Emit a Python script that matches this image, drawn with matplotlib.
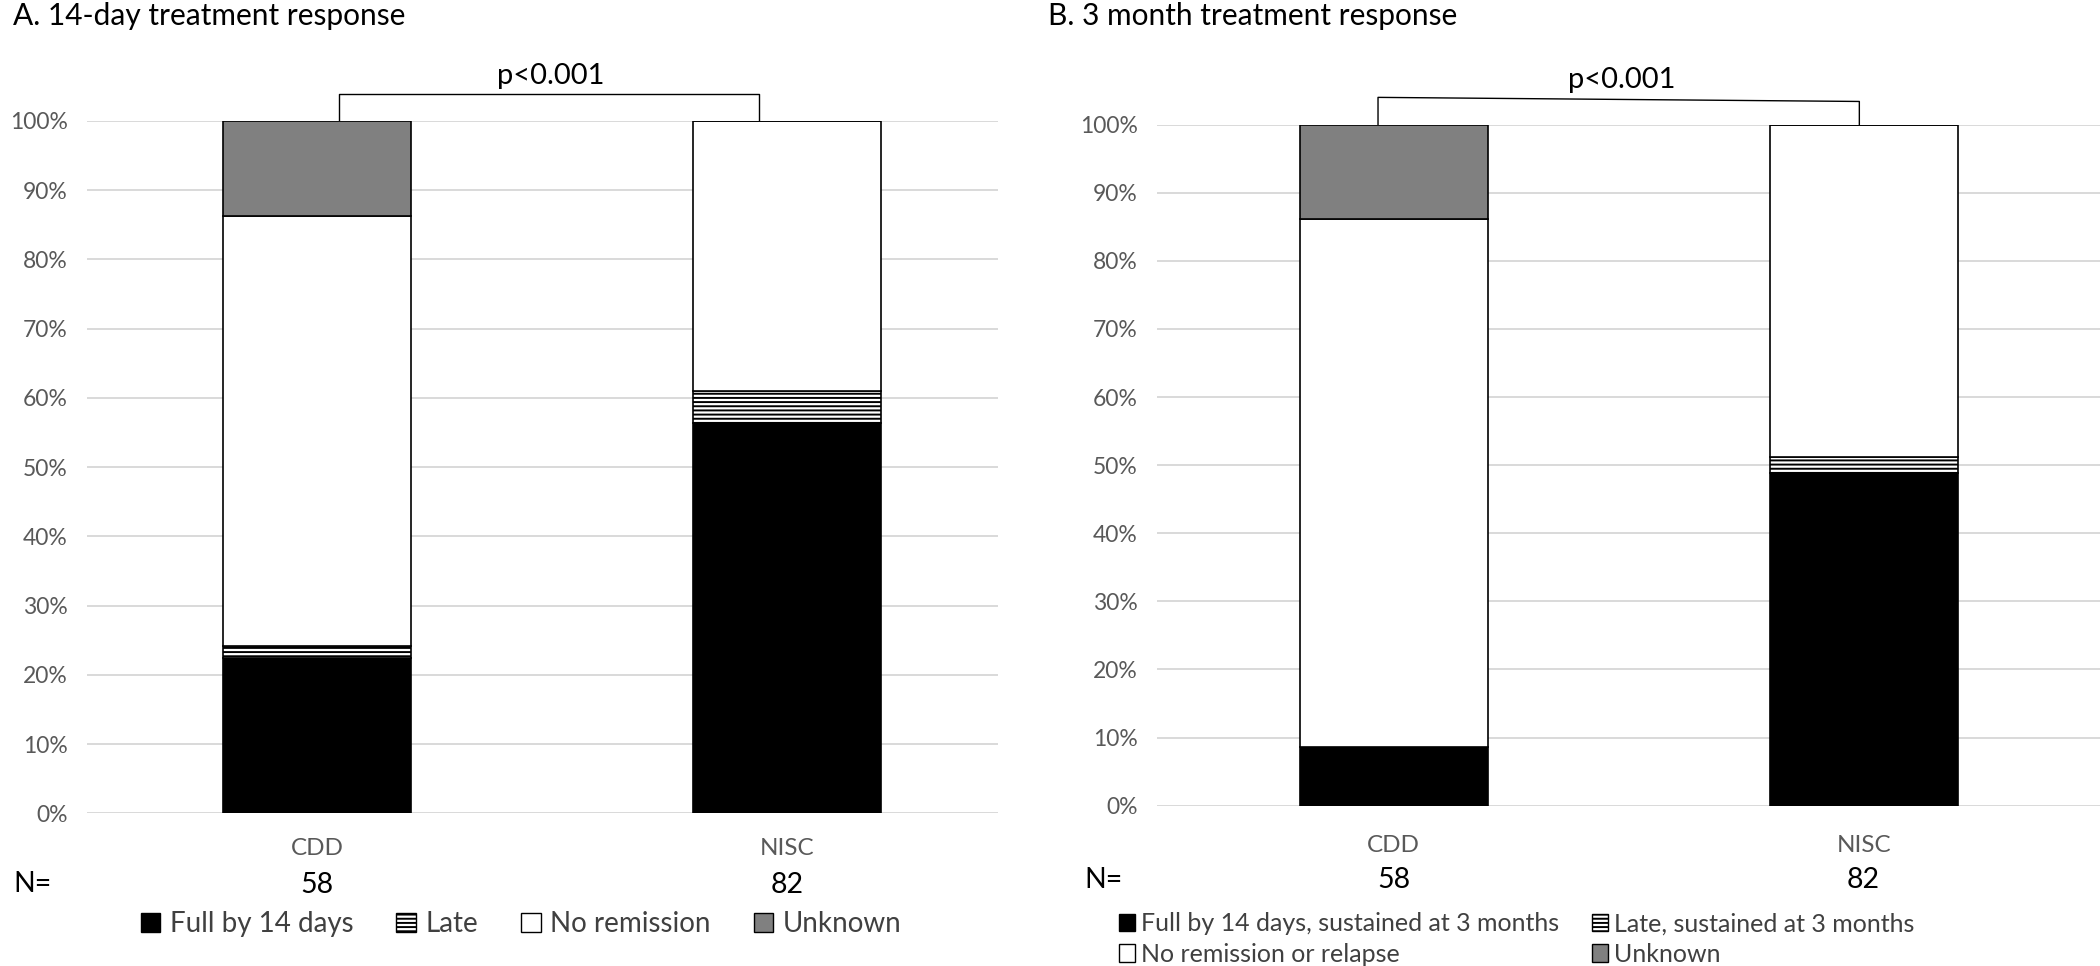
import matplotlib
matplotlib.use("Agg")
import matplotlib.pyplot as plt
from matplotlib.patches import Patch
from matplotlib.ticker import FuncFormatter

plt.rcParams['font.family'] = ['Lato', 'DejaVu Sans']
plt.rcParams['hatch.linewidth'] = 1.4

# data (percent of each group)
categories = ["CDD", "NISC"]
n_values = [58, 82]

a_full = [22.4, 56.4]
a_late = [1.7, 4.6]
a_none = [62.1, 39.0]
a_unknown = [13.8, 0.0]
a_labels = ["Full by 14 days", "Late", "No remission", "Unknown"]

b_full = [8.6, 48.8]
b_late = [0.0, 2.4]
b_none = [77.6, 48.8]
b_unknown = [13.8, 0.0]
b_labels = ["Full by 14 days, sustained at 3 months", "Late, sustained at 3 months",
            "No remission or relapse", "Unknown"]

p_text = "p<0.001"

tick_grey = "#595959"
grid_grey = "#d9d9d9"
styles = [dict(color="black", edgecolor="black"),
          dict(color="white", edgecolor="black", hatch="----"),
          dict(color="white", edgecolor="black"),
          dict(color="#808080", edgecolor="black")]


def draw_panel(ax, series, labels, xlim):
    x = range(len(categories))
    bottom = [0.0] * len(categories)
    handles = []
    for vals, lab, st in zip(series, labels, styles):
        ax.bar(x, vals, width=0.4, bottom=bottom, linewidth=1.2, zorder=3, **st)
        bottom = [b + v for b, v in zip(bottom, vals)]
        handles.append(Patch(facecolor=st["color"], edgecolor="black",
                             hatch=st.get("hatch"), linewidth=1.0, label=lab))
    ax.set_ylim(0, 100)
    ax.set_xlim(*xlim)
    ax.set_yticks(range(0, 101, 10))
    ax.yaxis.set_major_formatter(FuncFormatter(lambda v, p: "%d%%" % v))
    ax.tick_params(axis="y", length=0, labelsize=16.5, labelcolor=tick_grey, pad=14)
    ax.set_xticks([])
    ax.grid(axis="y", color=grid_grey, linewidth=1.4, zorder=0)
    for s in ax.spines.values():
        s.set_visible(False)
    return handles


fig = plt.figure(figsize=(21, 9.66), dpi=100)

# panel A
ax1 = fig.add_axes([0.0414, 0.158, 0.434, 0.717])
h1 = draw_panel(ax1, [a_full, a_late, a_none, a_unknown], a_labels, (-0.49, 1.45))
ax1.plot([0.047, 0.047, 0.94, 0.94], [100, 103.8, 103.8, 100], color="black",
         linewidth=1.0, clip_on=False)
ax1.text(0.497, 106.5, p_text, ha="center", va="center", fontsize=21)
tr1 = ax1.get_xaxis_transform()
for i, c in enumerate(categories):
    ax1.text(i, -0.051, c, transform=tr1, ha="center", va="center",
             fontsize=17.5, color=tick_grey)
    ax1.text(i, -0.103, str(n_values[i]), transform=tr1, ha="center", va="center",
             fontsize=20.5, color="black")
fig.text(0.0066, 0.085, "N=", ha="left", va="center", fontsize=20.5)
fig.text(0.006, 0.983, "A. 14-day treatment response", ha="left", va="center",
         fontsize=21.5, color="black")
fig.legend(handles=h1, loc="center left", bbox_to_anchor=(0.055, 0.0435), ncol=4,
           frameon=False, fontsize=20, handlelength=0.7, handleheight=0.7,
           handletextpad=0.35, columnspacing=1.55, labelcolor="#404040")

# panel B
ax2 = fig.add_axes([0.551, 0.166, 0.449, 0.705])
h2 = draw_panel(ax2, [b_full, b_late, b_none, b_unknown], b_labels, (-0.503, 1.503))
ax2.plot([-0.033, -0.033, 0.991, 0.991], [100, 104.0, 103.4, 99.6], color="black",
         linewidth=1.0, clip_on=False)
ax2.text(0.486, 106.6, p_text, ha="center", va="center", fontsize=21)
tr2 = ax2.get_xaxis_transform()
for i, c in enumerate(categories):
    ax2.text(i, -0.059, c, transform=tr2, ha="center", va="center",
             fontsize=17.5, color=tick_grey)
    ax2.text(i, -0.109, str(n_values[i]), transform=tr2, ha="center", va="center",
             fontsize=20.5, color="black")
fig.text(0.5166, 0.089, "N=", ha="left", va="center", fontsize=20.5)
fig.text(0.499, 0.983, "B. 3 month treatment response", ha="left", va="center",
         fontsize=21.5, color="black")
fig.legend(handles=[h2[0], h2[2], h2[1], h2[3]], loc="center left",
           bbox_to_anchor=(0.522, 0.028), ncol=2, frameon=False, fontsize=18,
           handlelength=0.65, handleheight=0.7, handletextpad=0.25,
           columnspacing=1.3, labelspacing=0.3, labelcolor="#404040")

fig.savefig("out.png", dpi=100, facecolor="white")
